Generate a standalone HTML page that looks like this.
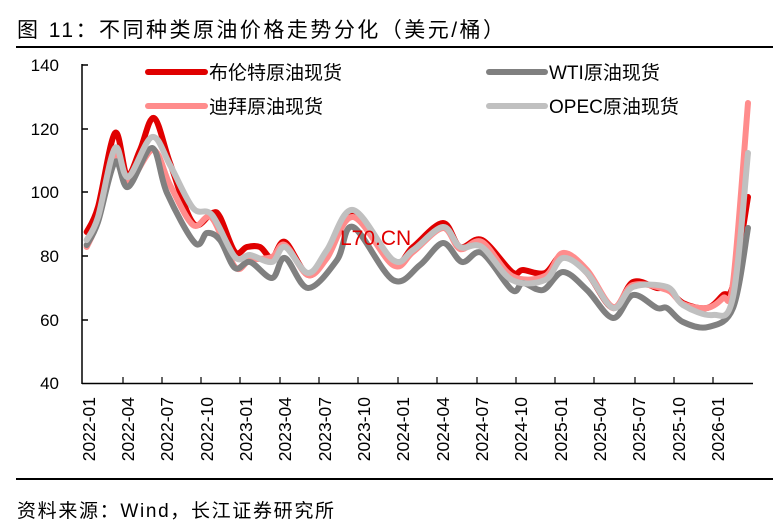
<!DOCTYPE html>
<html><head><meta charset="utf-8"><style>
body{margin:0;background:#fff;}
svg{display:block;font-family:"Liberation Sans","Noto Sans CJK SC",sans-serif;}
</style></head><body>
<svg width="773" height="532" viewBox="0 0 773 532">
<text x="17" y="37" font-size="21" fill="#000" textLength="487" lengthAdjust="spacing">图  11：不同种类原油价格走势分化（美元/桶）</text>
<line x1="16" y1="47" x2="773" y2="47" stroke="#000" stroke-width="2"/>
<g font-size="17" fill="#000" text-anchor="end">
<text x="59" y="71">140</text><text x="59" y="135">120</text><text x="59" y="198">100</text>
<text x="59" y="262">80</text><text x="59" y="326">60</text><text x="59" y="389">40</text>
</g>
<g stroke="#000" stroke-width="1.5" fill="none">
<line x1="82" y1="64" x2="82" y2="384"/>
<line x1="82" y1="383.5" x2="753" y2="383.5"/>
<line x1="82" y1="65" x2="88" y2="65"/><line x1="82" y1="129" x2="88" y2="129"/>
<line x1="82" y1="192" x2="88" y2="192"/><line x1="82" y1="256" x2="88" y2="256"/>
<line x1="82" y1="320" x2="88" y2="320"/>
</g>
<g stroke="#000" stroke-width="1.2">
<line x1="123" y1="383" x2="123" y2="377"/><line x1="162" y1="383" x2="162" y2="377"/>
<line x1="201" y1="383" x2="201" y2="377"/><line x1="240" y1="383" x2="240" y2="377"/>
<line x1="280" y1="383" x2="280" y2="377"/><line x1="319" y1="383" x2="319" y2="377"/>
<line x1="358" y1="383" x2="358" y2="377"/><line x1="398" y1="383" x2="398" y2="377"/>
<line x1="437" y1="383" x2="437" y2="377"/><line x1="477" y1="383" x2="477" y2="377"/>
<line x1="516" y1="383" x2="516" y2="377"/><line x1="555" y1="383" x2="555" y2="377"/>
<line x1="594" y1="383" x2="594" y2="377"/><line x1="635" y1="383" x2="635" y2="377"/>
<line x1="674" y1="383" x2="674" y2="377"/><line x1="713" y1="383" x2="713" y2="377"/>
</g>
<g font-size="17.5" fill="#000" text-anchor="end">
<text transform="translate(95,397) rotate(-90)">2022-01</text>
<text transform="translate(134,397) rotate(-90)">2022-04</text>
<text transform="translate(173,397) rotate(-90)">2022-07</text>
<text transform="translate(213,397) rotate(-90)">2022-10</text>
<text transform="translate(252,397) rotate(-90)">2023-01</text>
<text transform="translate(291,397) rotate(-90)">2023-04</text>
<text transform="translate(331,397) rotate(-90)">2023-07</text>
<text transform="translate(370,397) rotate(-90)">2023-10</text>
<text transform="translate(409,397) rotate(-90)">2024-01</text>
<text transform="translate(449,397) rotate(-90)">2024-04</text>
<text transform="translate(488,397) rotate(-90)">2024-07</text>
<text transform="translate(527,397) rotate(-90)">2024-10</text>
<text transform="translate(567,397) rotate(-90)">2025-01</text>
<text transform="translate(606,397) rotate(-90)">2025-04</text>
<text transform="translate(645,397) rotate(-90)">2025-07</text>
<text transform="translate(685,397) rotate(-90)">2025-10</text>
<text transform="translate(724,397) rotate(-90)">2026-01</text>
</g>
<g fill="none" stroke-width="6" stroke-linejoin="round" stroke-linecap="round">
<polyline class="s" stroke="#e00000" points="86.7,232 98,207 115,133 127,175 140,150 154,118 170,163 193,223 212,213 220,217 235,252 247,247 260,247 272,258 285,242 308,275 327,255 353,215 393,263 413,247 443,223 460,247 482,240 512,272 523,270 545,273 563,255 587,273 613,308 633,282 657,288 667,288 683,303 707,308 723,295 733,285 748,197"/>
<polyline class="s" stroke="#ff8c8c" points="86.7,247 98,220 115,153 128,183 153,150 170,185 193,225 212,218 235,267 250,260 272,257 285,245 308,275 327,258 353,217 393,265 413,252 443,228 460,249 482,242 512,276 545,276 563,253 587,270 613,307 633,285 667,290 683,304 707,308 723,298 733,283 748,103"/>
<polyline class="s" stroke="#808080" points="86.7,245 98,222 115,162 128,187 152,148 167,193 195,243 207,233 220,240 235,268 250,262 272,278 285,258 308,288 337,260 353,227 393,280 420,265 443,243 462,262 482,253 512,290 523,283 543,290 563,272 587,290 613,318 633,295 657,308 667,308 683,322 708,327 733,308 748,228"/>
<polyline class="s" stroke="#c0c0c0" points="86.7,240 98,217 115,148 128,177 152,137 170,165 193,208 212,215 235,257 250,255 272,262 285,247 308,273 327,250 353,210 393,260 413,250 443,227 460,247 482,247 512,280 545,280 563,258 587,273 613,308 633,287 667,287 683,305 713,315 733,297 748,153"/>
</g>
<g stroke-width="6" stroke-linecap="round">
<line x1="148" y1="72" x2="205" y2="72" stroke="#e00000"/>
<line x1="148" y1="106" x2="205" y2="106" stroke="#ff8c8c"/>
<line x1="489" y1="72" x2="545" y2="72" stroke="#808080"/>
<line x1="489" y1="106" x2="545" y2="106" stroke="#c0c0c0"/>
</g>
<g font-size="19" fill="#000">
<text x="209" y="79">布伦特原油现货</text>
<text x="209" y="113">迪拜原油现货</text>
<text x="549" y="79">WTI原油现货</text>
<text x="549" y="113">OPEC原油现货</text>
</g>
<text x="340" y="245" font-size="21" fill="#e00000">L70.CN</text>
<line x1="16" y1="479" x2="773" y2="479" stroke="#000" stroke-width="2"/>
<text x="17" y="517" font-size="19" fill="#000" textLength="317" lengthAdjust="spacing">资料来源：Wind，长江证券研究所</text>
</svg>
<script>
document.querySelectorAll('polyline.s').forEach(function(pl){
  var p=pl.getAttribute('points').trim().split(/\s+/).map(function(s){return s.split(',').map(Number);});
  var d='M'+p[0][0]+','+p[0][1];
  for(var i=0;i<p.length-1;i++){
    var p0=p[i-1]||p[i],p1=p[i],p2=p[i+1],p3=p[i+2]||p2,t=6;
    d+=' C'+(p1[0]+(p2[0]-p0[0])/t)+','+(p1[1]+(p2[1]-p0[1])/t)+' '+(p2[0]-(p3[0]-p1[0])/t)+','+(p2[1]-(p3[1]-p1[1])/t)+' '+p2[0]+','+p2[1];
  }
  var path=document.createElementNS('http://www.w3.org/2000/svg','path');
  path.setAttribute('d',d);path.setAttribute('stroke',pl.getAttribute('stroke'));
  pl.parentNode.replaceChild(path,pl);
});
</script>
</body></html>
